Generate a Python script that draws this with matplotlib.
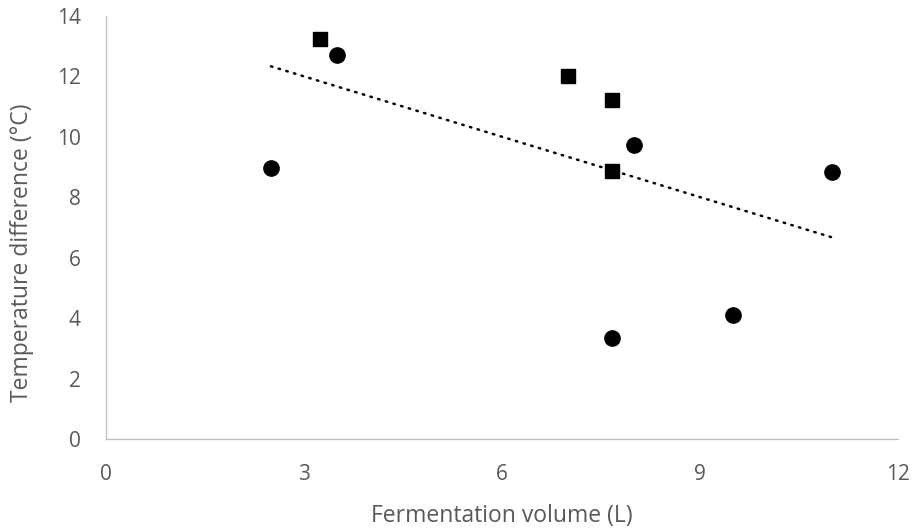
import numpy as np
import matplotlib
matplotlib.use("Agg")
import matplotlib.pyplot as plt

plt.rcParams['font.family'] = ['Open Sans', 'DejaVu Sans']

# circle series
circ_x = [2.5, 3.5, 8.0, 7.67, 9.5, 11.0]
circ_y = [8.98, 12.72, 9.72, 3.35, 4.1, 8.85]
# square series
sq_x = [3.25, 7.0, 7.67, 7.67]
sq_y = [13.24, 12.0, 11.22, 8.88]
# linear trendline as drawn (slope, intercept, x range)
trend_slope = -0.666
trend_intercept = 14.0
trend_range = [2.5, 11.0]

GRAY = "#595959"
fig = plt.figure(figsize=(9.15, 5.3), dpi=100)
ax = fig.add_axes([0.1158, 0.1717, 0.8656, 0.7981])

tx = np.array(trend_range)
ax.plot(tx, trend_slope * tx + trend_intercept, color="black", lw=1.8,
        linestyle=(0, (0.6, 2.6)), dash_capstyle="round", zorder=2)
ax.plot(circ_x, circ_y, "o", color="black", markersize=11, zorder=3)
ax.plot(sq_x, sq_y, "s", color="black", markersize=10.5, zorder=3)

ax.set_xlim(0, 12)
ax.set_ylim(0, 14)
ax.set_xticks([0, 3, 6, 9, 12])
ax.set_yticks(range(0, 15, 2))
for s in ["top", "right"]:
    ax.spines[s].set_visible(False)
for s in ["left", "bottom"]:
    ax.spines[s].set_color("#BFBFBF")
    ax.spines[s].set_linewidth(0.9)
ax.tick_params(length=0, labelsize=15, colors=GRAY)
ax.tick_params(axis="x", pad=18)
ax.tick_params(axis="y", pad=18)
ax.set_xlabel("Fermentation volume (L)", fontsize=16.5, color=GRAY, va="center")
ax.set_ylabel("Temperature difference (°C)", fontsize=16.5, color=GRAY, va="center")
ax.xaxis.set_label_coords(0.5, (439 - 516) / 423)
ax.yaxis.set_label_coords((22 - 106) / 792, (439 - 253) / 423)

fig.savefig("out.png", dpi=100)
